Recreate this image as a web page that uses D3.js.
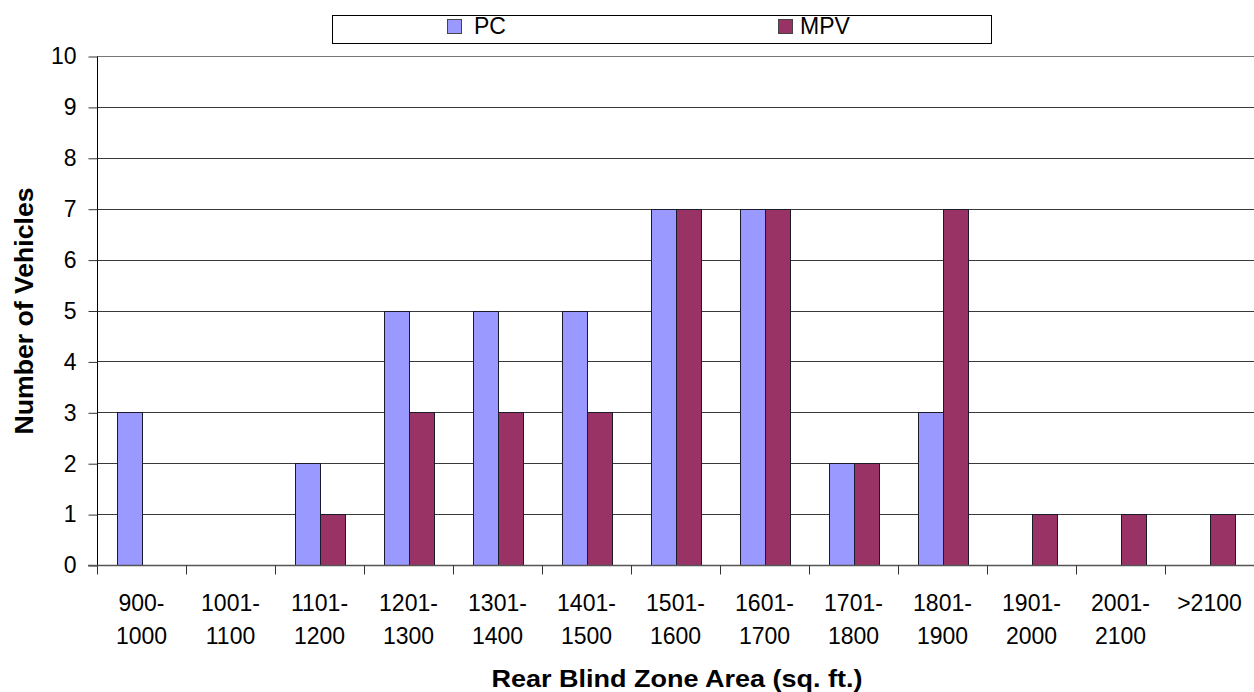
<!DOCTYPE html>
<html>
<head>
<meta charset="utf-8">
<script src="https://cdn.jsdelivr.net/npm/d3@7/dist/d3.min.js"></script>
<style>
  html, body { margin: 0; padding: 0; background: #fff; }
  svg { display: block; font-family: "Liberation Sans", Arial, sans-serif; }
</style>
</head>
<body>
<svg id="chart" width="1254" height="692"></svg>
<script>
// Rear blind zone area bins and vehicle counts
const categories = [
  ["900-", "1000"], ["1001-", "1100"], ["1101-", "1200"], ["1201-", "1300"],
  ["1301-", "1400"], ["1401-", "1500"], ["1501-", "1600"], ["1601-", "1700"],
  ["1701-", "1800"], ["1801-", "1900"], ["1901-", "2000"], ["2001-", "2100"],
  [">2100"]
];
const pcValues  = [3, 0, 2, 5, 5, 5, 7, 7, 2, 3, 0, 0, 0];
const mpvValues = [0, 0, 1, 3, 3, 3, 7, 7, 2, 7, 1, 1, 1];
const seriesNames = ["PC", "MPV"];
const yTicks = [0, 1, 2, 3, 4, 5, 6, 7, 8, 9, 10];

const colors = { PC: "#9999FF", MPV: "#993366" };

const svg = d3.select("#chart");
const margin = { left: 97, right: 0, top: 56, bottom: 127 };
const W = 1254, H = 692;
const plotW = W - margin.left - margin.right;
const plotH = H - margin.top - margin.bottom;

const keys = categories.map((c, i) => i);
const x = d3.scaleBand().domain(keys).range([margin.left, margin.left + plotW]).paddingInner(0).paddingOuter(0);
const xs = d3.scaleBand().domain(seriesNames).range([0, x.bandwidth()]).paddingInner(0).paddingOuter(0.78);
const y = d3.scaleLinear().domain([0, 10]).range([margin.top + plotH, margin.top]);

// horizontal gridlines
svg.append("g")
  .selectAll("line")
  .data(yTicks.filter(d => d > 0))
  .join("line")
  .attr("x1", margin.left).attr("x2", W)
  .attr("y1", d => Math.round(y(d)) + 0.5).attr("y2", d => Math.round(y(d)) + 0.5)
  .attr("stroke", d => d === 10 ? "#777" : "#3a3a3a").attr("stroke-width", 1);

// bars
const data = keys.map(i => ({ i, PC: pcValues[i], MPV: mpvValues[i] }));
const groups = svg.append("g").selectAll("g")
  .data(data).join("g")
  .attr("transform", d => `translate(${x(d.i)},0)`);
groups.selectAll("rect")
  .data(d => seriesNames.map(k => ({ k, v: d[k] })).filter(e => e.v > 0))
  .join("rect")
  .attr("x", e => Math.round(xs(e.k)) + 0.5)
  .attr("y", e => Math.round(y(e.v)) + 0.5)
  .attr("width", Math.round(xs.bandwidth()))
  .attr("height", e => Math.round(y(0)) - Math.round(y(e.v)))
  .attr("fill", e => colors[e.k])
  .attr("stroke", "#1a1a2a").attr("stroke-width", 1);

// y axis
const yAxis = d3.axisLeft(y).tickValues(yTicks).tickSize(9).tickPadding(12).tickFormat(d3.format("d"));
const gy = svg.append("g").attr("transform", `translate(${margin.left + 0.5},0.5)`).call(yAxis);
gy.select(".domain").attr("stroke", "#000").attr("d", `M0,${Math.round(y(10))}V${Math.round(y(0))}`);
gy.selectAll(".tick line").attr("stroke", "#333");
gy.selectAll(".tick text").attr("font-size", 23).attr("fill", "#000")
  .attr("font-family", "'Liberation Sans', Arial, sans-serif");

// x axis baseline and ticks at band boundaries
const base = Math.round(y(0)) + 0.5;
svg.append("line").attr("x1", margin.left - 9).attr("x2", W)
  .attr("y1", base).attr("y2", base).attr("stroke", "#555").attr("stroke-width", 1.5);
svg.append("g").selectAll("line")
  .data(keys).join("line")
  .attr("x1", d => Math.round(x(d)) + 0.5).attr("x2", d => Math.round(x(d)) + 0.5)
  .attr("y1", base).attr("y2", base + 9)
  .attr("stroke", "#333");

// x tick labels (two lines)
const labels = svg.append("g").selectAll("text")
  .data(data).join("text")
  .attr("x", d => x(d.i) + x.bandwidth() / 2)
  .attr("y", 611)
  .attr("text-anchor", "middle")
  .attr("font-size", 23).attr("fill", "#000");
labels.selectAll("tspan")
  .data(d => categories[d.i])
  .join("tspan")
  .attr("x", function () { return this.parentNode.getAttribute("x"); })
  .attr("dy", (t, j) => j === 0 ? 0 : 33)
  .text(t => t);

// axis titles
svg.append("text")
  .attr("x", 677).attr("y", 687)
  .attr("text-anchor", "middle")
  .attr("font-size", 24).attr("font-weight", "bold")
  .attr("textLength", 371).attr("lengthAdjust", "spacingAndGlyphs")
  .text("Rear Blind Zone Area (sq. ft.)");
svg.append("text")
  .attr("transform", "translate(33,311) rotate(-90)")
  .attr("text-anchor", "middle")
  .attr("font-size", 25).attr("font-weight", "bold")
  .attr("textLength", 247).attr("lengthAdjust", "spacingAndGlyphs")
  .text("Number of Vehicles");

// legend
const legend = svg.append("g");
legend.append("rect").attr("x", 332.5).attr("y", 15.5).attr("width", 659).attr("height", 28)
  .attr("fill", "#fff").attr("stroke", "#000").attr("stroke-width", 1);
const legendPos = { PC: [447, 474], MPV: [778, 800] };
seriesNames.forEach(k => {
  legend.append("rect").attr("x", legendPos[k][0] + 0.5).attr("y", 19.5).attr("width", 14).attr("height", 14)
    .attr("fill", colors[k]).attr("stroke", "#444");
  legend.append("text").attr("x", legendPos[k][1]).attr("y", 34)
    .attr("font-size", 23).text(k);
});
</script>
</body>
</html>
